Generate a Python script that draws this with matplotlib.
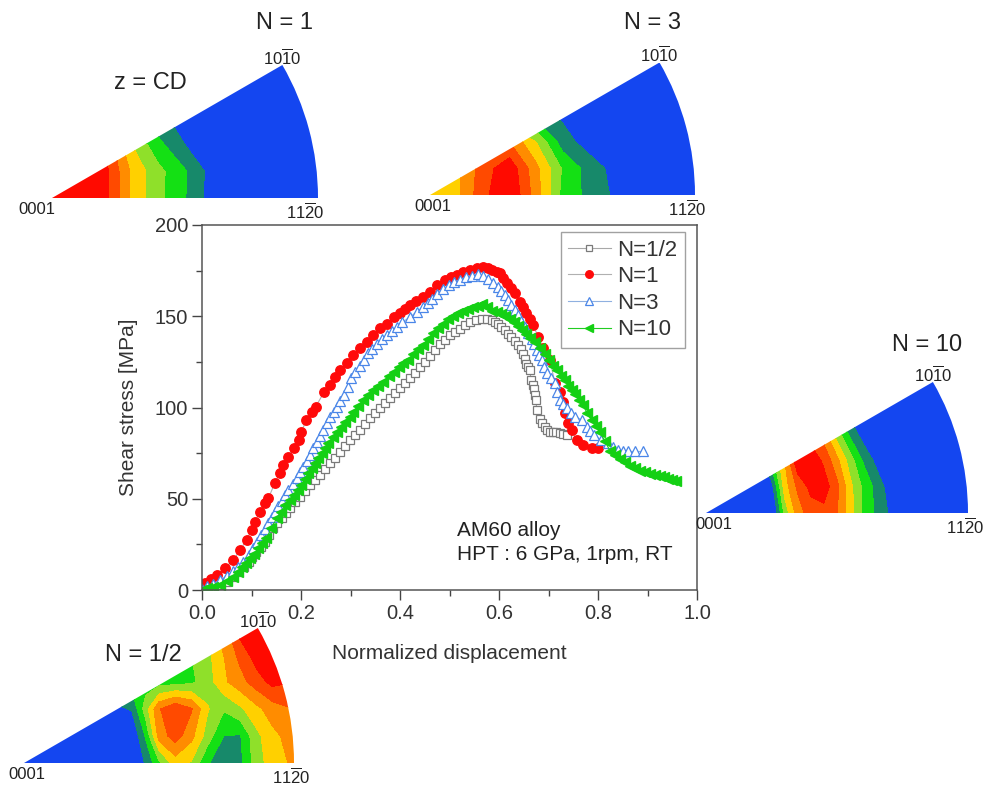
import matplotlib
matplotlib.use("Agg")
import matplotlib.pyplot as plt
import numpy as np
from matplotlib.patches import Wedge
from matplotlib.ticker import MultipleLocator, FormatStrFormatter

plt.rcParams["font.family"] = ["Liberation Sans", "DejaVu Sans"]
plt.rcParams["mathtext.default"] = "regular"

# ---- shear stress curves (normalized displacement, MPa) ----
x_half = [0.000, 0.012, 0.023, 0.035, 0.050, 0.062, 0.073, 0.084, 0.094, 0.102,
          0.110, 0.119, 0.127, 0.136, 0.144, 0.152, 0.161, 0.170, 0.178, 0.188,
          0.198, 0.208, 0.218, 0.228, 0.238, 0.248, 0.259, 0.269, 0.279, 0.289,
          0.299, 0.309, 0.319, 0.329, 0.339, 0.350, 0.360, 0.370, 0.380, 0.390,
          0.400, 0.410, 0.420, 0.430, 0.440, 0.450, 0.460, 0.470, 0.481, 0.491,
          0.501, 0.511, 0.521, 0.531, 0.541, 0.553, 0.565, 0.575, 0.585, 0.592,
          0.598, 0.605, 0.612, 0.618, 0.625, 0.632, 0.639, 0.644, 0.649, 0.652,
          0.655, 0.659, 0.662, 0.665, 0.668, 0.670, 0.672, 0.674, 0.677, 0.682,
          0.687, 0.692, 0.697, 0.703, 0.710, 0.716, 0.723, 0.730, 0.737]
y_half = [0.0, 0.5, 1.0, 2.5, 4.5, 7.0, 10.0, 12.8, 15.5, 18.0,
          21.0, 23.8, 26.5, 30.0, 33.8, 36.5, 39.3, 42.0, 44.8, 48.0,
          51.2, 54.4, 57.5, 60.2, 63.0, 66.2, 69.4, 72.6, 75.8, 79.0,
          82.2, 85.0, 87.7, 90.8, 94.0, 96.8, 99.5, 102.2, 105.0, 107.8,
          110.5, 113.2, 116.0, 119.0, 122.0, 125.0, 128.0, 131.5, 134.9, 137.2,
          139.5, 141.4, 143.2, 145.0, 146.8, 148.0, 148.6, 148.4, 147.7, 146.8,
          145.9, 144.2, 142.3, 140.5, 138.6, 136.3, 134.0, 131.8, 129.5, 126.8,
          124.0, 122.2, 120.4, 114.9, 112.5, 110.3, 107.0, 103.9, 98.4, 93.8,
          91.5, 89.3, 87.8, 86.5, 86.5, 86.5, 86.0, 85.6, 84.7]

x_n1 = [0.000, 0.006, 0.018, 0.030, 0.046, 0.063, 0.077, 0.090, 0.100, 0.107,
        0.117, 0.127, 0.134, 0.147, 0.157, 0.164, 0.174, 0.185, 0.195, 0.201,
        0.211, 0.222, 0.230, 0.247, 0.259, 0.269, 0.279, 0.292, 0.306, 0.319,
        0.333, 0.346, 0.360, 0.373, 0.387, 0.400, 0.410, 0.420, 0.433, 0.447,
        0.460, 0.474, 0.491, 0.503, 0.515, 0.528, 0.541, 0.555, 0.568, 0.578,
        0.585, 0.595, 0.602, 0.609, 0.616, 0.624, 0.632, 0.642, 0.649, 0.655,
        0.662, 0.669, 0.679, 0.689, 0.703, 0.713, 0.723, 0.730, 0.733, 0.740,
        0.747, 0.757, 0.770, 0.787, 0.800]
y_n1 = [1.0, 3.6, 6.0, 8.3, 11.9, 16.4, 21.9, 27.4, 32.9, 37.4,
        42.9, 47.5, 50.2, 58.5, 64.0, 68.5, 73.0, 77.6, 82.2, 86.8,
        93.2, 97.7, 100.5, 108.7, 112.3, 116.9, 120.5, 124.2, 128.8, 132.4,
        136.1, 139.7, 143.5, 146.0, 149.8, 152.0, 154.0, 156.2, 158.5, 160.7,
        163.5, 167.0, 169.9, 171.3, 172.6, 174.0, 175.3, 176.5, 177.2, 176.5,
        175.5, 174.5, 173.5, 171.0, 168.0, 165.3, 162.6, 158.0, 155.0, 151.6,
        148.4, 145.2, 138.8, 132.4, 126.0, 113.2, 108.7, 103.2, 96.8, 91.3,
        87.7, 82.2, 79.4, 77.6, 77.6]

x_n3 = [0.000, 0.010, 0.023, 0.037, 0.050, 0.063, 0.073, 0.083, 0.094, 0.104,
        0.112, 0.120, 0.127, 0.134, 0.141, 0.147, 0.154, 0.161, 0.168, 0.174,
        0.183, 0.191, 0.198, 0.205, 0.212, 0.218, 0.225, 0.232, 0.239, 0.245,
        0.252, 0.259, 0.266, 0.272, 0.279, 0.286, 0.294, 0.302, 0.310, 0.319,
        0.327, 0.336, 0.344, 0.353, 0.363, 0.373, 0.383, 0.393, 0.405, 0.420,
        0.434, 0.447, 0.456, 0.464, 0.475, 0.487, 0.498, 0.510, 0.522, 0.534,
        0.546, 0.558, 0.568, 0.578, 0.588, 0.598, 0.605, 0.612, 0.618, 0.625,
        0.632, 0.639, 0.645, 0.652, 0.659, 0.666, 0.671, 0.676, 0.681, 0.686,
        0.691, 0.696, 0.705, 0.713, 0.718, 0.723, 0.730, 0.737, 0.745, 0.754,
        0.767, 0.777, 0.784, 0.791, 0.807, 0.821, 0.831, 0.841, 0.851, 0.861,
        0.875, 0.891]
y_n3 = [0.5, 2.0, 3.5, 5.6, 7.8, 10.2, 12.8, 15.5, 19.0, 23.0,
        26.5, 30.0, 33.2, 36.5, 39.8, 43.0, 46.0, 49.0, 52.0, 55.0,
        58.2, 61.4, 64.5, 67.5, 70.8, 74.0, 77.6, 81.3, 84.5, 87.7,
        91.3, 95.0, 97.8, 100.5, 103.8, 107.0, 111.5, 116.0, 119.5, 123.0,
        126.3, 129.6, 132.3, 135.0, 137.4, 139.7, 142.0, 144.3, 146.8, 149.5,
        152.5, 155.3, 157.5, 159.7, 162.4, 165.0, 166.9, 168.7, 170.1, 171.5,
        172.3, 173.0, 171.8, 170.6, 168.3, 166.0, 163.8, 161.5, 158.8, 156.0,
        153.3, 150.6, 147.4, 144.2, 141.0, 137.8, 134.6, 131.5, 128.8, 126.0,
        122.4, 118.7, 116.0, 113.2, 108.6, 104.1, 101.8, 99.5, 97.2, 95.0,
        93.2, 89.5, 87.2, 85.0, 82.2, 80.4, 78.5, 76.7, 76.3, 75.9,
        75.9, 75.9]

x_n10 = [0.000, 0.010, 0.023, 0.037, 0.050, 0.063, 0.072, 0.080, 0.089, 0.097,
         0.106, 0.114, 0.122, 0.130, 0.140, 0.151, 0.160, 0.168, 0.177, 0.185,
         0.193, 0.201, 0.208, 0.215, 0.222, 0.228, 0.235, 0.242, 0.249, 0.255,
         0.264, 0.272, 0.281, 0.289, 0.298, 0.306, 0.316, 0.326, 0.336, 0.346,
         0.356, 0.366, 0.377, 0.387, 0.397, 0.407, 0.417, 0.427, 0.437, 0.447,
         0.457, 0.467, 0.477, 0.487, 0.497, 0.507, 0.518, 0.528, 0.538, 0.548,
         0.557, 0.565, 0.575, 0.585, 0.595, 0.605, 0.613, 0.622, 0.630, 0.639,
         0.647, 0.655, 0.663, 0.672, 0.682, 0.692, 0.700, 0.709, 0.717, 0.726,
         0.733, 0.740, 0.747, 0.753, 0.762, 0.770, 0.778, 0.787, 0.795, 0.804,
         0.814, 0.824, 0.834, 0.844, 0.854, 0.864, 0.874, 0.884, 0.894, 0.905,
         0.915, 0.925, 0.933, 0.942, 0.950, 0.958]
y_n10 = [0.0, 1.0, 1.8, 2.7, 4.8, 7.3, 10.0, 12.8, 15.0, 17.4,
         20.0, 22.8, 25.5, 28.3, 33.8, 39.3, 43.0, 46.6, 49.3, 52.0,
         54.8, 57.5, 60.7, 63.9, 66.6, 69.4, 72.2, 74.9, 77.6, 80.4,
         83.6, 86.8, 89.5, 92.3, 95.0, 97.8, 101.0, 104.2, 106.9, 109.6,
         111.9, 114.2, 117.0, 119.7, 122.0, 124.2, 126.0, 129.5, 132.0, 134.5,
         137.5, 141.0, 143.5, 146.0, 148.5, 150.4, 152.0, 153.1, 154.0, 154.9,
         155.8, 156.8, 155.0, 153.1, 152.2, 151.3, 150.0, 148.6, 146.8, 144.9,
         142.6, 140.4, 138.1, 135.8, 132.6, 129.4, 126.2, 123.0, 120.3, 117.5,
         114.8, 112.0, 109.8, 107.5, 104.3, 101.1, 97.0, 92.9, 89.7, 86.5,
         81.5, 76.4, 74.1, 71.8, 70.0, 68.2, 66.8, 65.4, 64.5, 63.6,
         63.2, 62.7, 61.8, 60.9, 60.5, 60.0]

# ---- inverse pole figure intensity grids (level 0 = blue ... 7 = red) ----
IPF_LEVELS = [-100, 0.5, 1.5, 2.5, 3.5, 4.5, 5.5, 6.5, 100]
IPF_COLORS = ["#1446f0", "#17896a", "#14e014", "#8fe02a",
              "#ffd000", "#ff8c00", "#ff4a00", "#ff0a00"]

grid_x_n1 = [0.0, 0.1, 0.2, 0.3, 0.4, 0.5, 0.6, 0.7, 0.8, 0.9, 1.0]
grid_y_n1 = [0.0, 0.1, 0.2, 0.3, 0.4, 0.5]
z_n1 = [[8, 8, 6.8, 4.3, 2.8, 1.55, 0, 0, 0, 0, 0],
        [8, 8, 6.8, 4.3, 2.8, 1.6, 0.1, 0, 0, 0, 0],
        [8, 8, 6.5, 3.5, 1.8, 0.5, 0, 0, 0, 0, 0],
        [8, 6, 4, 2, 0.8, 0, 0, 0, 0, 0, 0],
        [0, 0, 0, 0, 0, 0, 0, 0, 0, 0, 0],
        [0, 0, 0, 0, 0, 0, 0, 0, 0, 0, 0]]

grid_x_n3 = [0.0, 0.1, 0.2, 0.3, 0.4, 0.5, 0.6, 0.7, 0.8, 0.9, 1.0]
grid_y_n3 = [0.0, 0.1, 0.2, 0.3, 0.4, 0.5]
z_n3 = [[4.0, 4.2, 6.2, 7.5, 5.0, 2.2, 1.2, 0.3, 0, 0, 0],
        [4.0, 4.2, 6.0, 7.2, 4.8, 2.4, 1.1, 0.1, 0, 0, 0],
        [5, 5, 5.5, 5.5, 3.5, 1.0, 0, 0, 0, 0, 0],
        [3, 3, 3, 2, 1.0, 0.3, 0, 0, 0, 0, 0],
        [0, 0, 0, 0, 0, 0, 0, 0, 0, 0, 0],
        [0, 0, 0, 0, 0, 0, 0, 0, 0, 0, 0]]

grid_x_n10 = [0.0, 0.1, 0.2, 0.25, 0.3, 0.35, 0.4, 0.45, 0.5, 0.55, 0.6, 0.65, 0.7, 0.8, 1.0]
grid_y_n10 = [0.0, 0.1, 0.2, 0.3, 0.4, 0.5]
z_n10 = [[0, 0, 0, -1.2, 2.8, 5.0, 6.0, 6.2, 5.5, 4.0, 2.2, 1.3, 0.4, 0, 0],
         [0, 0, -2, 0.0, 4.0, 5.7, 6.8, 7.0, 5.8, 3.8, 2.3, 1.2, 0, 0, 0],
         [0, 0, 0, 2.0, 4.5, 7.3, 7.2, 6.3, 4.8, 3.0, 1.4, 0.2, 0, 0, 0],
         [0, 0, 0, 0, 0, 6.0, 6.0, 5.0, 3.0, 1.3, 0, 0, 0, 0, 0],
         [0, 0, 0, 0, 0, 0, 0, 0, 0, 0, 0, 0, 0, 0, 0],
         [0, 0, 0, 0, 0, 0, 0, 0, 0, 0, 0, 0, 0, 0, 0]]

grid_x_half = [0.0, 0.1, 0.2, 0.3, 0.4, 0.45, 0.5, 0.56, 0.62, 0.68, 0.74, 0.8, 0.86, 0.92, 1.0]
grid_y_half = [0.0, 0.1, 0.2, 0.3, 0.4, 0.5]
z_half = [[0, 0, 0, 0, -0.5, 0.6, 2.3, 4.0, 3.4, 1.6, 0.8, 1.2, 3.0, 4.0, 4.7],
          [0, 0, 0, 0, -0.5, 1.6, 4.9, 6.0, 4.8, 3.0, 1.5, 1.4, 3.2, 4.2, 5.0],
          [0, 0, 0, 0, 0.6, 3.0, 5.4, 6.4, 5.6, 3.6, 2.6, 3.3, 4.2, 5.0, 5.5],
          [0, 0, 0, 1.5, 2.0, 2.0, 2.0, 2.1, 2.3, 3.0, 4.3, 5.1, 6.0, 6.8, 6.5],
          [0, 0, 0, 0, 0, 0, 1.5, 2.0, 2.5, 3.2, 4.5, 5.8, 7.0, 7.5, 7.5],
          [0, 0, 0, 0, 0, 0, 0, 0, 3.0, 4.0, 5.0, 7.0, 7.5, 7.5, 7.5]]

W, H = 993, 792
fig = plt.figure(figsize=(W / 100, H / 100), dpi=100)


def px_rect(x0, y_bottom, w, h):
    return [x0 / W, 1 - y_bottom / H, w / W, h / H]


# ---- main stress-displacement plot ----
ax = fig.add_axes(px_rect(202, 590, 495, 365))
ax.plot(x_half, y_half, "-", color="#a8a8a8", lw=0.8, marker="s", ms=6,
        mfc="white", mec="#7a7a7a", mew=0.9, label="N=1/2")
ax.plot(x_n1, y_n1, "-", color="#b0b0b0", lw=0.8, marker="o", ms=6.8,
        mfc="#ff0a0a", mec="#ff0a0a", label="N=1")
ax.plot(x_n3, y_n3, "-", color="#8fb0e0", lw=0.8, marker="^", ms=6.5,
        mfc="white", mec="#4a86e8", mew=0.9, label="N=3")
ax.plot(x_n10, y_n10, "-", color="#22cc22", lw=0.8, marker="<", ms=6.5,
        mfc="#14d014", mec="#14d014", label="N=10")

ax.set_xlim(0, 1.0)
ax.set_ylim(0, 200)
ax.xaxis.set_major_locator(MultipleLocator(0.2))
ax.xaxis.set_minor_locator(MultipleLocator(0.1))
ax.yaxis.set_major_locator(MultipleLocator(50))
ax.yaxis.set_minor_locator(MultipleLocator(25))
ax.xaxis.set_major_formatter(FormatStrFormatter("%.1f"))
ax.tick_params(which="major", direction="out", length=7, width=1,
               labelsize=14.5, color="#444444", labelcolor="#333333", pad=3)
ax.tick_params(which="minor", direction="out", length=4, width=1, color="#444444")
for s in ax.spines.values():
    s.set_color("#555555")
    s.set_linewidth(1.1)
ax.set_xlabel("Normalized displacement", fontsize=15, color="#333333", labelpad=15)
ax.set_ylabel("Shear stress [MPa]", fontsize=15, color="#333333", labelpad=12)

leg = ax.legend(loc="upper right", bbox_to_anchor=(0.976, 0.981), borderaxespad=0,
                fontsize=16, frameon=True, fancybox=False, edgecolor="#8a8a8a",
                handlelength=1.9, handletextpad=0.3, labelspacing=0.25,
                borderpad=0.35, markerscale=0.8)
leg.get_frame().set_linewidth(1.0)
for t in leg.get_texts():
    t.set_color("#333333")

ax.text(0.515, 0.13, "AM60 alloy\nHPT : 6 GPa, 1rpm, RT", transform=ax.transAxes,
        fontsize=15, color="#222222", ha="left", va="center", linespacing=1.3)


# ---- inverse pole figures ----
def draw_ipf(apex, radius, gx, gy, z, lab0001_dx, lab1120_x):
    iax = fig.add_axes(px_rect(apex[0], apex[1], radius, radius / 2))
    iax.set_xlim(0, 1)
    iax.set_ylim(0, 0.5)
    iax.axis("off")
    X, Y = np.meshgrid(gx, gy)
    cs = iax.contourf(X, Y, np.array(z, dtype=float), levels=IPF_LEVELS, colors=IPF_COLORS)
    wedge = Wedge((0, 0), 1, 0, 30, facecolor="none", edgecolor="none")
    iax.add_patch(wedge)
    cs.set_clip_path(wedge)
    iax.text(lab0001_dx, -0.015, "0001", fontsize=12, ha="center", va="top",
             color="#222222", clip_on=False)
    iax.text(lab1120_x, -0.015, r"$11\overline{2}0$", fontsize=12, ha="center", va="top",
             color="#222222", clip_on=False)
    iax.text(0.866, 0.49, r"$10\overline{1}0$", fontsize=12, ha="center", va="bottom",
             color="#222222", clip_on=False)
    return iax


draw_ipf((52, 198), 266, grid_x_n1, grid_y_n1, z_n1, -0.055, 0.95)
draw_ipf((430, 195), 265, grid_x_n3, grid_y_n3, z_n3, 0.01, 0.97)
draw_ipf((706, 513), 262, grid_x_n10, grid_y_n10, z_n10, 0.03, 0.99)
draw_ipf((24, 763), 270, grid_x_half, grid_y_half, z_half, 0.01, 0.99)

for label, (px, py) in [("N = 1", (285, 23)), ("N = 3", (653, 23)),
                        ("N = 10", (927, 345)), ("N = 1/2", (143, 655)),
                        ("z = CD", (150, 83))]:
    fig.text(px / W, 1 - py / H, label, fontsize=17, ha="center", va="center",
             color="#222222")

fig.savefig("out.png", dpi=100)
